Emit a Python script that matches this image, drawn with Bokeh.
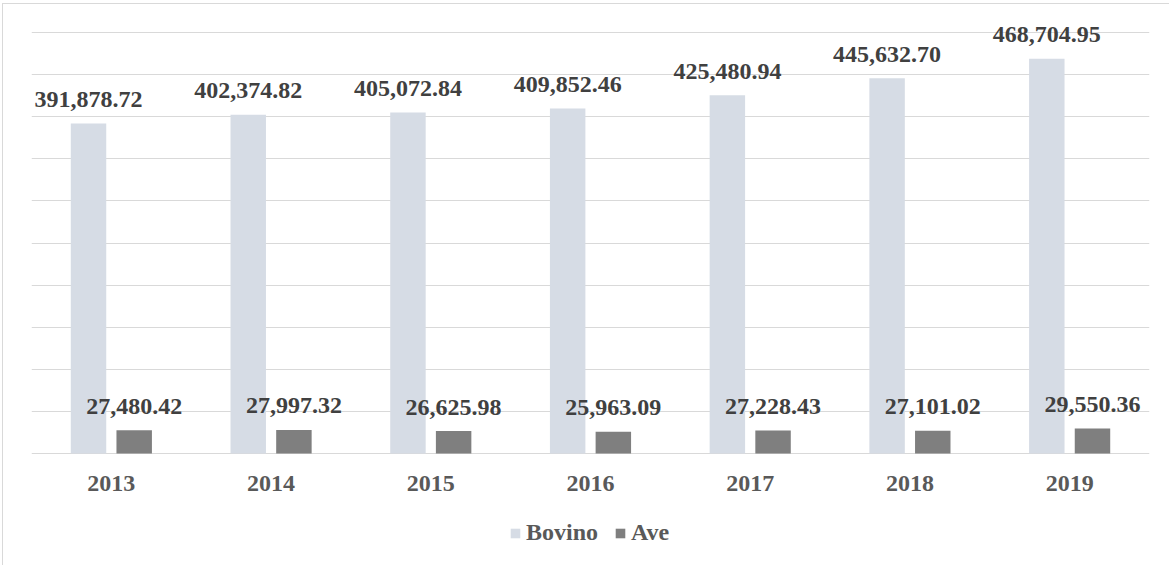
from bokeh.plotting import figure
from bokeh.models import ColumnDataSource, FixedTicker, Legend, LegendItem, Range1d
from bokeh.core.properties import value
from bokeh.embed import file_html
from bokeh.resources import INLINE

years = ["2013", "2014", "2015", "2016", "2017", "2018", "2019"]
bovino = [391878.72, 402374.82, 405072.84, 409852.46, 425480.94, 445632.70, 468704.95]
ave = [27480.42, 27997.32, 26625.98, 25963.09, 27228.43, 27101.02, 29550.36]
series_names = ["Bovino", "Ave"]
series_colors = ["#d6dce5", "#7f7f7f"]

FONT = "Liberation Serif"
idx = list(range(len(years)))
off = 0.143
bw = 0.222

src = ColumnDataSource(dict(
    x=idx,
    zero=[0] * len(years),
    years=years,
    xb=[i - off for i in idx],
    xa=[i + off for i in idx],
    bovino=bovino,
    ave=ave,
    lb=["{:,.2f}".format(v) for v in bovino],
    la=["{:,.2f}".format(v) for v in ave],
))

p = figure(frame_width=1118, frame_height=552, output_backend="svg", toolbar_location=None,
           x_range=Range1d(-0.5, len(years) - 0.5), y_range=Range1d(-128285, 527330),
           min_border_left=28, min_border_right=20, min_border_top=5, min_border_bottom=4,
           margin=(3, 0, 0, 2),
           styles={"border-left": "1px solid #d9d9d9", "border-top": "1px solid #d9d9d9"})
p.outline_line_color = None
p.background_fill_color = "white"
p.border_fill_color = "white"

r1 = p.vbar(x="xb", top="bovino", width=bw, source=src, fill_color=series_colors[0], line_color=None)
r2 = p.vbar(x="xa", top="ave", width=bw, source=src, fill_color=series_colors[1], line_color=None)

for xcol, ycol, tcol in (("xb", "bovino", "lb"), ("xa", "ave", "la")):
    p.text(x=xcol, y=ycol, text=tcol, source=src, text_align="center", text_baseline="alphabetic",
           y_offset=-24, text_font=value(FONT), text_font_style="bold", text_font_size="24px",
           text_color="#404040")

# category labels under the baseline
p.text(x="x", y="zero", text="years", source=src, text_align="center", text_baseline="alphabetic",
       y_offset=30, text_font=value(FONT), text_font_style="bold", text_font_size="24px",
       text_color="#595959")

p.xaxis.visible = False
p.yaxis.visible = False
p.ygrid.ticker = FixedTicker(ticks=list(range(0, 500001, 50000)))
p.ygrid.grid_line_color = "#d9d9d9"
p.ygrid.grid_line_width = 1
p.xgrid.grid_line_color = None

legend = Legend(items=[LegendItem(label=series_names[0], renderers=[r1]),
                       LegendItem(label=series_names[1], renderers=[r2])],
                orientation="horizontal", location=(478, 15),
                glyph_width=12, glyph_height=12, label_standoff=5, spacing=16,
                padding=0, margin=0, border_line_color=None, background_fill_alpha=0,
                label_text_font=FONT, label_text_font_style="bold",
                label_text_font_size="24px", label_text_color="#595959")
p.add_layout(legend, "center")

open("out.html", "w").write(file_html(p, INLINE))
